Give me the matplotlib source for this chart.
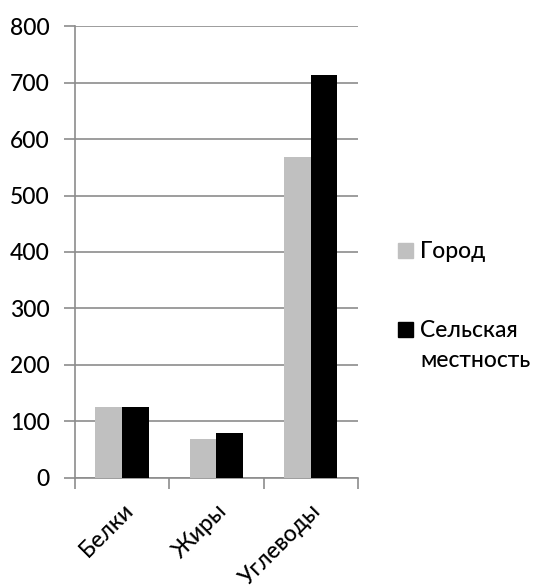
import numpy as np
import matplotlib.pyplot as plt
from matplotlib.patches import Rectangle

plt.rcParams['font.family'] = ['Lato', 'DejaVu Sans']
plt.rcParams['font.weight'] = 'medium'

categories = ["Белки", "Жиры", "Углеводы"]
city = [126, 69, 568]
rural = [125, 80, 714]
series_names = ["Город", "Сельская\nместность"]
colors = ["#c0c0c0", "#000000"]

W, H = 535, 587
fig = plt.figure(figsize=(W / 100, H / 100), dpi=100)
ax = fig.add_axes([0.140, 0.1857, 0.529, 0.770])

x = np.arange(len(categories))
w = 0.283
ax.bar(x - w / 2, city, w, color=colors[0], zorder=3)
ax.bar(x + w / 2, rural, w, color=colors[1], zorder=3)

grid_c = "#8c8c8c"
fs = 16.5
ax.set_xlim(-0.5, 2.5)
ax.set_ylim(0, 800)
ax.set_yticks(range(0, 801, 100))
ax.yaxis.grid(True, color=grid_c, linewidth=1.2, zorder=0)
ax.set_xticks(x)
ax.set_xticklabels(categories, rotation=45, ha="right", rotation_mode="anchor", fontsize=fs)
ax.set_xticks(np.arange(-0.5, 3, 1), minor=True)
ax.tick_params(axis="x", which="major", length=0, pad=16)
ax.tick_params(axis="x", which="minor", length=8, color=grid_c, width=1.2)
ax.tick_params(axis="y", length=8, color=grid_c, width=1.2, labelsize=fs, pad=10)

for s in ["top", "right"]:
    ax.spines[s].set_visible(False)
for s in ["left", "bottom"]:
    ax.spines[s].set_color(grid_c)
    ax.spines[s].set_linewidth(1.2)

# legend drawn by hand (pixel positions from the top-left)
for name, c, top in zip(series_names, colors, [243, 322]):
    fig.patches.append(Rectangle((398 / W, 1 - (top + 15) / H), 15 / W, 15 / H,
                                 transform=fig.transFigure, color=c))
    for i, line in enumerate(name.split("\n")):
        fig.text(420 / W, 1 - (top + 15 + 30 * i) / H, line, fontsize=fs,
                 ha="left", va="baseline")

fig.savefig("out.png", dpi=100)
